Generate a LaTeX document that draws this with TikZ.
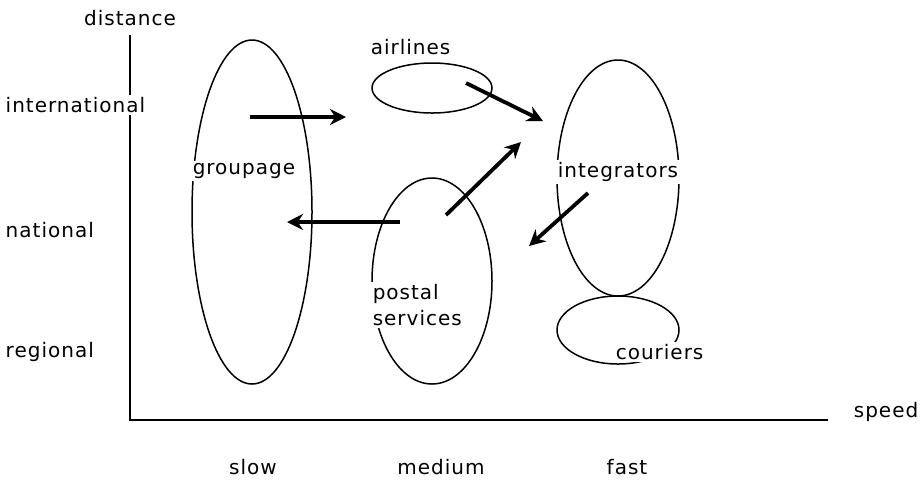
\documentclass[tikz,border=0pt]{standalone}
\usepackage{fontspec}
\newfontfamily\geneva[LetterSpace=5]{DejaVu Sans}
\usetikzlibrary{arrows.meta}
\usetikzlibrary{shapes.geometric}
\tikzset{
	every path/.style = {line width=0.75pt},
	market/.style = {draw, ellipse, inner sep=0pt},
	txt/.style = {fill=white, inner sep=1pt, font=\geneva\fontsize{10}{13}\selectfont}
}

\begin{document}
\begin{tikzpicture}[x=0.5pt,y=-0.5pt,
	flow/.style={line width=1.9pt,-{Stealth[length=8pt,width=8pt]}}]
	\useasboundingbox (0,0) rectangle (924,484);
	% axes
	\coordinate (top) at (130,35);
	\coordinate (o) at (130,420);
	\coordinate (right) at (828,420);
	\draw (top) -- (o) -- (right);
	% markets
	\node (g) [market, minimum width=60pt, minimum height=172pt] at (252,212) {};
	\node (a) [market, minimum width=60pt, minimum height=25pt] at (432,88) {};
	\node (p) [market, minimum width=60pt, minimum height=103pt] at (432,281) {};
	\node (i) [market, minimum width=61pt, minimum height=118pt] at (618,178) {};
	\node (c) [market, minimum width=61pt, minimum height=34pt] at (618,330) {};
	% axis labels
	\node (dist) [txt] at (130,18) {distance};
	\node (intl) [txt, anchor=west] at (3,105) {international};
	\node (natl) [txt, anchor=west] at (3,230) {national};
	\node (regl) [txt, anchor=west] at (3,352) {regional};
	\node (slow) [txt] at (253,467) {slow};
	\node (med) [txt] at (441,467) {medium};
	\node (fast) [txt] at (627,467) {fast};
	\node (spd) [txt, anchor=east] at (921,412) {speed};
	% market labels
	\node (gl) [txt, anchor=west] at (190,171) {groupage};
	\node (al) [txt, anchor=west] at (368,47) {airlines};
	\node (pl) [txt, anchor=west, align=left] at (370,305) {postal\\services};
	\node (il) [txt] at (618,172) {integrators};
	\node (cl) [txt, anchor=west] at (613,352) {couriers};
	% flows
	\coordinate (g1) at (250,117);
	\coordinate (a1) at (346,117);
	\coordinate (a2) at (466,83);
	\coordinate (i2) at (543,121);
	\coordinate (p3) at (446,215);
	\coordinate (i3) at (521,142);
	\coordinate (p4) at (400,222);
	\coordinate (g4) at (287,222);
	\coordinate (i5) at (588,193);
	\coordinate (p5) at (529,246);
	\draw [flow] (g1) -- (a1);
	\draw [flow] (a2) -- (i2);
	\draw [flow] (p3) -- (i3);
	\draw [flow] (p4) -- (g4);
	\draw [flow] (i5) -- (p5);
\end{tikzpicture}
\end{document}
